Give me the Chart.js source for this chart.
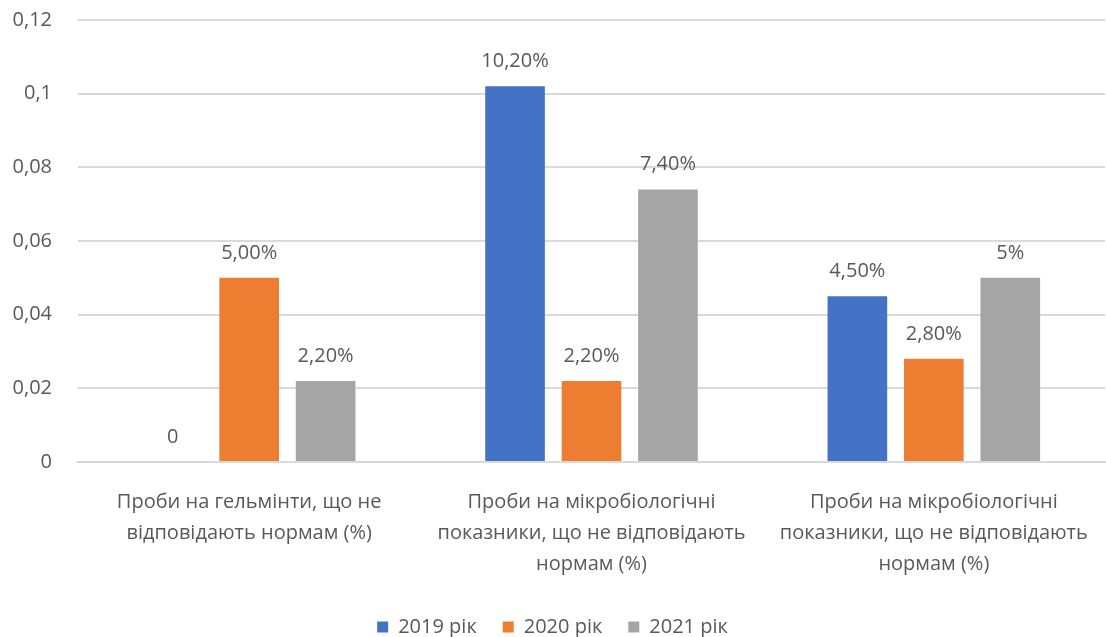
<!DOCTYPE html>
<html>
<head>
<meta charset="utf-8">
<script src="https://cdn.jsdelivr.net/npm/chart.js@4"></script>
<style>
  html, body { margin: 0; padding: 0; background: #fff; }
  #wrap { width: 1106px; height: 637px; }
</style>
</head>
<body>
<div id="wrap"><canvas id="samples-chart"></canvas></div>
<script>
var categories = [
    ['Проби на гельмінти, що не', 'відповідають нормам (%)'],
    ['Проби на мікробіологічні', 'показники, що не відповідають', 'нормам (%)'],
    ['Проби на мікробіологічні', 'показники, що не відповідають', 'нормам (%)']
];
var seriesNames = ['2019 рік', '2020 рік', '2021 рік'];
var values2019 = [0, 0.102, 0.045];
var values2020 = [0.05, 0.022, 0.028];
var values2021 = [0.022, 0.074, 0.05];
var labels2019 = ['0', '10,20%', '4,50%'];
var labels2020 = ['5,00%', '2,20%', '2,80%'];
var labels2021 = ['2,20%', '7,40%', '5%'];
var yTickLabels = ['0', '0,02', '0,04', '0,06', '0,08', '0,1', '0,12'];

var textColor = '#595959';
var font = 'Open Sans';
var fontSize = 20;

// draws the value text above each bar
var valueLabels = {
    id: 'valueLabels',
    afterDatasetsDraw: function(chart) {
        var ctx = chart.ctx;
        ctx.save();
        ctx.font = fontSize + 'px "' + font + '"';
        ctx.fillStyle = textColor;
        ctx.textAlign = 'center';
        ctx.textBaseline = 'alphabetic';
        chart.data.datasets.forEach(function(ds, i) {
            chart.getDatasetMeta(i).data.forEach(function(bar, j) {
                ctx.fillText(ds.valueText[j], bar.x, bar.y - 19);
            });
        });
        ctx.restore();
    }
};

var ctx = document.getElementById('samples-chart').getContext('2d');
new Chart(ctx, {
    type: 'bar',
    data: {
        labels: categories,
        datasets: [{
            label: seriesNames[0],
            data: values2019,
            valueText: labels2019,
            backgroundColor: '#4472c4'
        }, {
            label: seriesNames[1],
            data: values2020,
            valueText: labels2020,
            backgroundColor: '#ed7d31'
        }, {
            label: seriesNames[2],
            data: values2021,
            valueText: labels2021,
            backgroundColor: '#a5a5a5'
        }]
    },
    plugins: [valueLabels],
    options: {
        responsive: true,
        maintainAspectRatio: false,
        animation: false,
        categoryPercentage: 0.67,
        barPercentage: 0.78,
        layout: {
            padding: { top: 20, right: 1, left: 0, bottom: -10 }
        },
        plugins: {
            tooltip: { enabled: false },
            legend: {
                position: 'bottom',
                labels: {
                    boxWidth: 11,
                    boxHeight: 11,
                    padding: 26,
                    color: textColor,
                    font: { family: font, size: fontSize }
                }
            }
        },
        scales: {
            x: {
                grid: { display: false },
                border: { display: true, color: '#d9d9d9', width: 2 },
                afterFit: function(scale) { scale.height = 129; },
                ticks: {
                    color: textColor,
                    padding: 17,
                    maxRotation: 0,
                    autoSkip: false,
                    font: { family: font, size: fontSize, lineHeight: 1.55 }
                }
            },
            y: {
                min: 0,
                max: 0.12,
                border: { display: false },
                afterFit: function(scale) {
                    scale.width = 78;
                    scale.paddingTop = 0;
                },
                grid: { color: '#d9d9d9', lineWidth: 2, drawTicks: false },
                ticks: {
                    stepSize: 0.02,
                    padding: 26,
                    color: textColor,
                    font: { family: font, size: fontSize },
                    callback: function(value, index) {
                        return yTickLabels[index];
                    }
                }
            }
        }
    }
});
</script>
</body>
</html>
